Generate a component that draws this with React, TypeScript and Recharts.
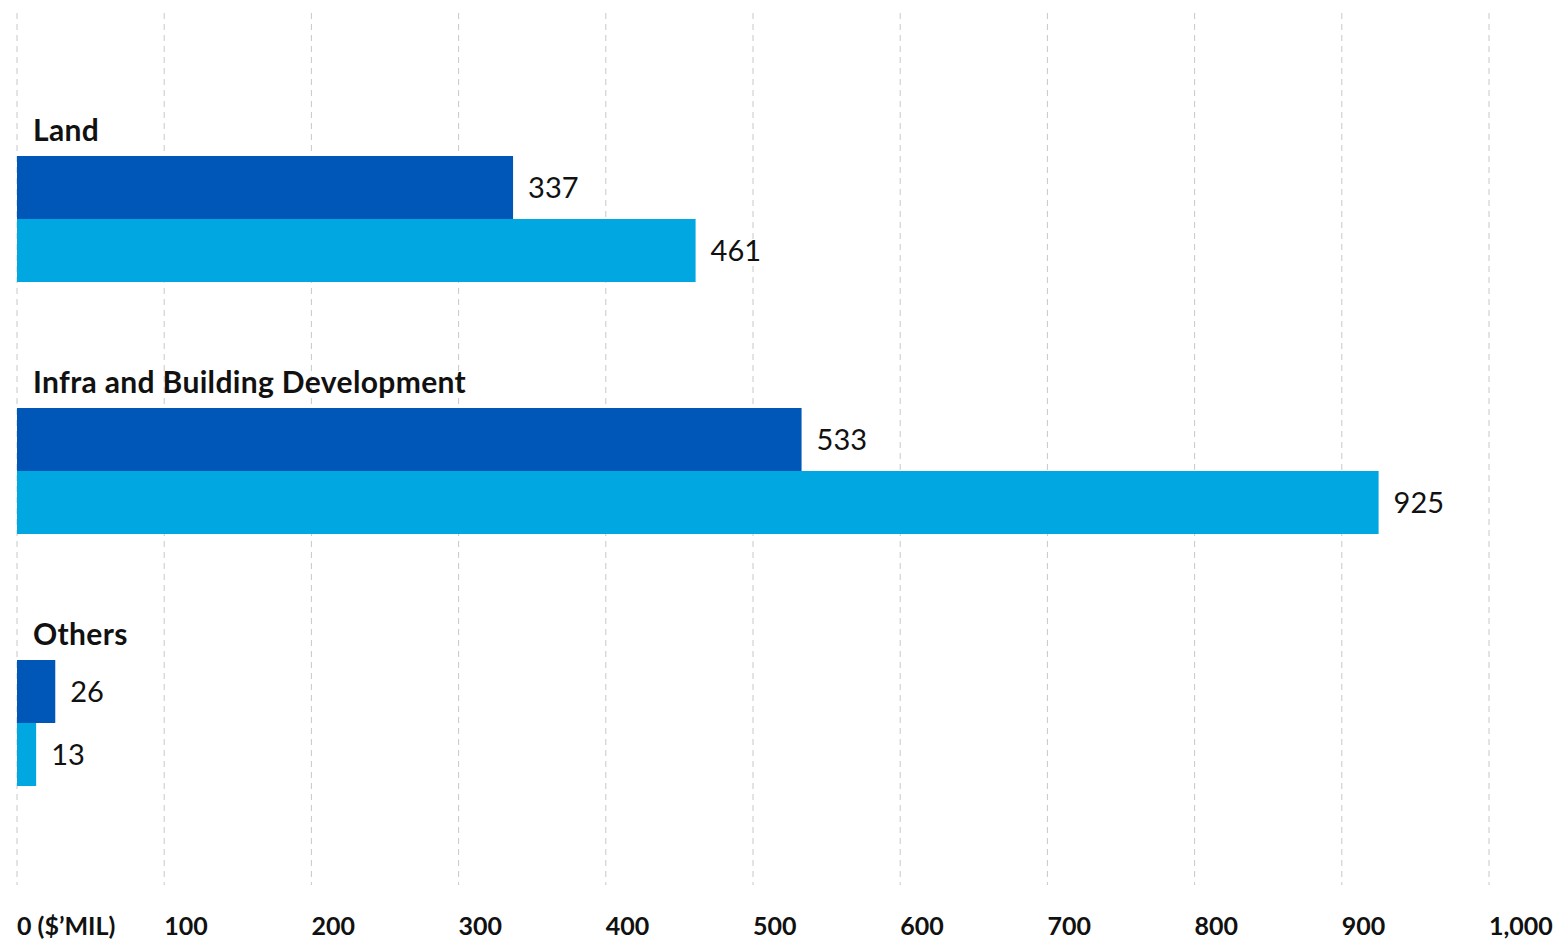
import { Bar, BarChart, CartesianGrid, LabelList, XAxis, YAxis } from 'recharts'

const categories = ['Land', 'Infra and Building Development', 'Others']
const seriesA = [337, 533, 26]
const seriesB = [461, 925, 13]
const xTicks = [0, 100, 200, 300, 400, 500, 600, 700, 800, 900, 1000]
const xTickLabels = ['0 ($’MIL)', '100', '200', '300', '400', '500', '600', '700', '800', '900', '1,000']

const DARK = '#0057B8'
const LIGHT = '#00A7E0'
const FONT = 'Lato, "Open Sans", sans-serif'

const data = categories.map((name, i) => ({ name, a: seriesA[i], b: seriesB[i] }))

function XTick({ x, y, payload }: any) {
  const idx = xTicks.indexOf(payload.value)
  return (
    <text x={x} y={y + 42} textAnchor="start" fontFamily={FONT} fontWeight={700} fontSize={25} fill="#111">
      {xTickLabels[idx] ?? payload.value}
    </text>
  )
}

// category name drawn above the first bar of each group
function CatLabel({ x, y, value }: any) {
  return (
    <text
      x={x + 16}
      y={y - 15}
      textAnchor="start"
      fontFamily={FONT}
      fontWeight={700}
      fontSize={30}
      letterSpacing={0.35}
      fill="#111"
    >
      {value}
    </text>
  )
}

export default function App() {
  return (
    <div style={{ position: 'absolute', left: 0, top: 0, background: '#fff' }}>
      <BarChart
        width={1559}
        height={947}
        data={data}
        layout="vertical"
        margin={{ top: 13, right: 70, bottom: 0, left: 17 }}
        barGap={0}
        barSize={63}
      >
        <CartesianGrid horizontal={false} stroke="#c8c8c8" strokeDasharray="6 5" />
        <XAxis
          type="number"
          domain={[0, 1000]}
          ticks={xTicks}
          interval={0}
          height={62}
          axisLine={false}
          tickLine={false}
          tick={<XTick />}
        />
        <YAxis
          type="category"
          dataKey="name"
          width={0}
          axisLine={false}
          tickLine={false}
          tick={false}
          padding={{ top: 80, bottom: 36 }}
        />
        <Bar dataKey="a" fill={DARK} isAnimationActive={false}>
          <LabelList dataKey="name" content={<CatLabel />} />
          <LabelList dataKey="a" position="right" offset={15} fill="#111" fontSize={29} fontFamily={FONT} />
        </Bar>
        <Bar dataKey="b" fill={LIGHT} isAnimationActive={false}>
          <LabelList dataKey="b" position="right" offset={15} fill="#111" fontSize={29} fontFamily={FONT} />
        </Bar>
      </BarChart>
    </div>
  )
}
